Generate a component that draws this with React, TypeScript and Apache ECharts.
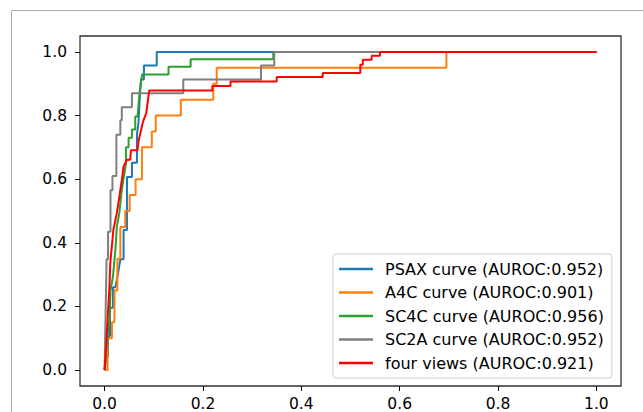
import React, { useEffect, useRef } from "react";
import * as echarts from "echarts";

const tickValues = [0, 0.2, 0.4, 0.6, 0.8, 1.0];

const seriesNames = [
  "PSAX curve (AUROC:0.952)",
  "A4C curve (AUROC:0.901)",
  "SC4C curve (AUROC:0.956)",
  "SC2A curve (AUROC:0.952)",
  "four views (AUROC:0.921)",
];
const seriesColors = ["#1f77b4", "#ff7f0e", "#2ca02c", "#7f7f7f", "#ff0000"];

const psaxFpr = [0, 0.004, 0.007, 0.007, 0.011, 0.011, 0.017, 0.017, 0.022, 0.027, 0.032, 0.0386, 0.0386, 0.0455, 0.0455, 0.0556, 0.0556, 0.0658, 0.0658, 0.069, 0.072, 0.074, 0.08, 0.08, 0.106, 0.106, 1];
const psaxTpr = [0, 0.043, 0.043, 0.107, 0.107, 0.196, 0.196, 0.26, 0.26, 0.3, 0.348, 0.348, 0.44, 0.44, 0.607, 0.607, 0.652, 0.652, 0.74, 0.78, 0.87, 0.913, 0.913, 0.957, 0.957, 1, 1];

const a4cFpr = [0, 0.006, 0.006, 0.015, 0.015, 0.02, 0.02, 0.026, 0.026, 0.032, 0.032, 0.042, 0.042, 0.051, 0.051, 0.063, 0.063, 0.076, 0.076, 0.096, 0.096, 0.104, 0.104, 0.155, 0.155, 0.221, 0.221, 0.228, 0.228, 0.695, 0.695, 1];
const a4cTpr = [0, 0, 0.1, 0.1, 0.15, 0.15, 0.25, 0.25, 0.35, 0.35, 0.45, 0.45, 0.5, 0.5, 0.55, 0.55, 0.6, 0.6, 0.7, 0.7, 0.75, 0.75, 0.8, 0.8, 0.85, 0.85, 0.9, 0.9, 0.95, 0.95, 1, 1];

const sc4cFpr = [0, 0.004, 0.01, 0.012, 0.017, 0.022, 0.025, 0.03, 0.035, 0.0434, 0.0434, 0.0488, 0.0488, 0.0556, 0.0556, 0.0623, 0.0623, 0.067, 0.071, 0.0745, 0.076, 0.13, 0.13, 0.175, 0.175, 0.343, 0.343, 1];
const sc4cTpr = [0, 0.08, 0.16, 0.25, 0.295, 0.38, 0.452, 0.494, 0.566, 0.65, 0.7, 0.7, 0.73, 0.73, 0.756, 0.756, 0.797, 0.797, 0.87, 0.91, 0.929, 0.929, 0.953, 0.953, 0.977, 0.977, 1, 1];

const sc2aFpr = [0, 0.002, 0.004, 0.007, 0.007, 0.012, 0.012, 0.016, 0.016, 0.024, 0.024, 0.032, 0.032, 0.035, 0.035, 0.0556, 0.0556, 0.16, 0.16, 0.318, 0.318, 0.345, 0.345, 1];
const sc2aTpr = [0, 0.17, 0.348, 0.348, 0.435, 0.435, 0.565, 0.565, 0.61, 0.61, 0.74, 0.74, 0.785, 0.785, 0.826, 0.826, 0.87, 0.87, 0.913, 0.913, 0.957, 0.957, 1, 1];

const fourFpr = [0, 0.003, 0.006, 0.0096, 0.0116, 0.018, 0.025, 0.0305, 0.0353, 0.0386, 0.0455, 0.052, 0.0536, 0.067, 0.069, 0.078, 0.0847, 0.0908, 0.219, 0.219, 0.256, 0.256, 0.35, 0.35, 0.4435, 0.4435, 0.52, 0.52, 0.525, 0.525, 0.543, 0.543, 0.56, 0.56, 1];
const fourTpr = [0, 0.07, 0.159, 0.253, 0.337, 0.442, 0.494, 0.55, 0.6, 0.64, 0.661, 0.661, 0.691, 0.691, 0.72, 0.78, 0.808, 0.879, 0.879, 0.893, 0.893, 0.907, 0.907, 0.921, 0.921, 0.934, 0.934, 0.96, 0.96, 0.975, 0.975, 0.988, 0.988, 1, 1];

const curves = [
  [psaxFpr, psaxTpr],
  [a4cFpr, a4cTpr],
  [sc4cFpr, sc4cTpr],
  [sc2aFpr, sc2aTpr],
  [fourFpr, fourTpr],
];

const FONT = "DejaVu Sans";

export default function App() {
  const ref = useRef<HTMLDivElement>(null);
  useEffect(() => {
    const chart = echarts.init(ref.current!, null, { renderer: "svg" });
    const axisCommon = {
      type: "value",
      min: -0.05,
      max: 1.05,
      splitLine: { show: false },
      axisLine: { show: false, onZero: false },
      axisTick: {
        show: true,
        length: 5,
        customValues: tickValues,
        lineStyle: { color: "#000", width: 1 },
      },
      axisLabel: {
        customValues: tickValues,
        formatter: (v: number) => v.toFixed(1),
        fontFamily: FONT,
        fontSize: 15.5,
        color: "#000",
      },
    };
    chart.setOption({
      animation: false,
      backgroundColor: "#fff",
      grid: {
        left: 80,
        top: 36,
        right: 22,
        bottom: 25,
        show: true,
        borderColor: "#333",
        borderWidth: 1.3,
        backgroundColor: "transparent",
      },
      xAxis: { ...axisCommon, axisLabel: { ...axisCommon.axisLabel, margin: 10 } },
      yAxis: { ...axisCommon, axisLabel: { ...axisCommon.axisLabel, margin: 13 } },
      legend: {
        orient: "vertical",
        left: 333,
        top: 254,
        padding: [7, 8, 7, 6],
        itemWidth: 34,
        itemHeight: 2.5,
        itemGap: 7.5,
        icon: "rect",
        backgroundColor: "rgba(255,255,255,0.8)",
        borderColor: "#d0d0d0",
        borderWidth: 1,
        borderRadius: 3,
        textStyle: {
          fontFamily: FONT,
          fontSize: 16,
          color: "#000",
          lineHeight: 16,
          padding: [0, 0, 0, 7],
        },
        data: seriesNames,
      },
      graphic: [
        {
          type: "rect",
          shape: { x: 11.5, y: 10.5, width: 700, height: 500 },
          style: { fill: "none", stroke: "#aaaaaa", lineWidth: 1 },
          silent: true,
          z: -1,
        },
      ],
      series: curves.map((c, i) => ({
        name: seriesNames[i],
        type: "line",
        showSymbol: false,
        symbol: "none",
        data: c[0].map((x, k) => [x, c[1][k]]),
        lineStyle: { color: seriesColors[i], width: 2 },
        itemStyle: { color: seriesColors[i] },
        z: 2 + i,
      })),
    });
    return () => chart.dispose();
  }, []);
  return (
    <div
      ref={ref}
      style={{ position: "fixed", left: 0, top: 0, width: 643, height: 412, background: "#fff" }}
    />
  );
}
